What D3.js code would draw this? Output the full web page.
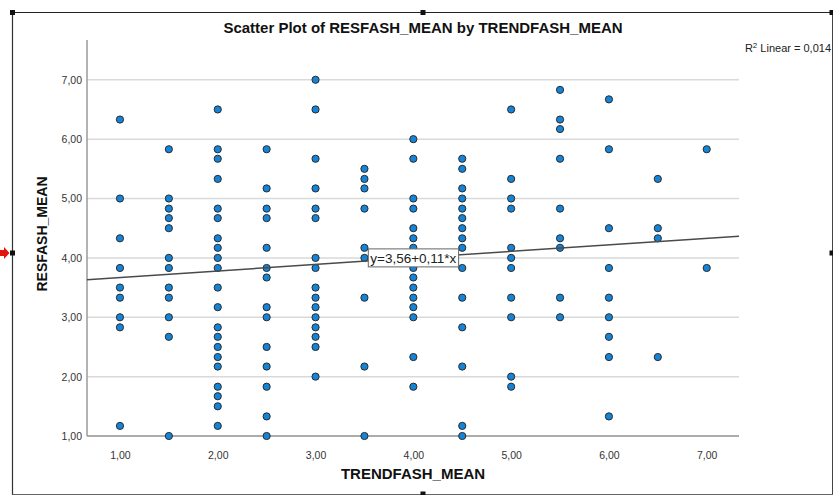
<!DOCTYPE html>
<html>
<head>
<meta charset="utf-8">
<script src="https://cdn.jsdelivr.net/npm/d3@7"></script>
<style>
  html, body { margin: 0; padding: 0; background: #fff; }
  svg { display: block; }
</style>
</head>
<body>
<svg id="chart" width="833" height="495"></svg>
<script>
// TRENDFASH_MEAN groups and the RESFASH_MEAN values observed in each group
const trendLevels = [1.0, 1.5, 2.0, 2.5, 3.0, 3.5, 4.0, 4.5, 5.0, 5.5, 6.0, 6.5, 7.0];
const res_1_0 = [6.33, 5.00, 4.33, 3.83, 3.50, 3.33, 3.00, 2.83, 1.17];
const res_1_5 = [5.83, 5.00, 4.83, 4.67, 4.50, 4.00, 3.83, 3.50, 3.33, 3.00, 2.67, 1.00];
const res_2_0 = [6.50, 5.83, 5.67, 5.33, 4.83, 4.67, 4.33, 4.17, 4.00, 3.83, 3.50, 3.17, 2.83, 2.67, 2.50, 2.33, 2.17, 1.83, 1.67, 1.50, 1.17];
const res_2_5 = [5.83, 5.17, 4.83, 4.67, 4.17, 3.83, 3.67, 3.17, 3.00, 2.50, 2.17, 1.83, 1.33, 1.00];
const res_3_0 = [7.00, 6.50, 5.67, 5.17, 4.83, 4.67, 4.00, 3.83, 3.50, 3.33, 3.17, 3.00, 2.83, 2.67, 2.50, 2.00];
const res_3_5 = [5.50, 5.33, 5.17, 4.83, 4.17, 4.00, 3.33, 2.17, 1.00];
const res_4_0 = [6.00, 5.67, 5.00, 4.83, 4.50, 4.33, 4.17, 4.00, 3.83, 3.67, 3.50, 3.33, 3.17, 3.00, 2.33, 1.83];
const res_4_5 = [5.67, 5.50, 5.17, 5.00, 4.83, 4.67, 4.50, 4.33, 4.17, 3.83, 3.33, 2.83, 2.17, 1.17, 1.00];
const res_5_0 = [6.50, 5.33, 5.00, 4.83, 4.17, 4.00, 3.83, 3.33, 3.00, 2.00, 1.83];
const res_5_5 = [6.83, 6.33, 6.17, 5.67, 4.83, 4.33, 4.17, 3.33, 3.00];
const res_6_0 = [6.67, 5.83, 4.50, 3.83, 3.33, 3.00, 2.67, 2.33, 1.33];
const res_6_5 = [5.33, 4.50, 4.33, 2.33];
const res_7_0 = [5.83, 3.83];
const groupValues = [res_1_0, res_1_5, res_2_0, res_2_5, res_3_0, res_3_5, res_4_0,
                     res_4_5, res_5_0, res_5_5, res_6_0, res_6_5, res_7_0];

// Tick values and the fitted linear model
const xTicks = [1, 2, 3, 4, 5, 6, 7];
const yTicks = [1, 2, 3, 4, 5, 6, 7];
const fitIntercept = 3.56;
const fitSlope = 0.11;
const fitLabelAt = 4.0;
const rSquared = "0,014";

const points = [];
trendLevels.forEach((t, i) => groupValues[i].forEach(v => points.push({ x: t, y: v })));

const fmt = v => d3.format(".2f")(v).replace(".", ",");

const svg = d3.select("#chart");
const font = "'Liberation Sans', Arial, sans-serif";

const plot = { left: 87, right: 739, top: 40, bottom: 436 };
const x = d3.scaleLinear().domain([0.663, 7.33]).range([plot.left, plot.right]);
const y = d3.scaleLinear().domain([1, 7.67]).range([plot.bottom, plot.top]);

// Outer frame with selection handles
const frame = svg.append("g");
frame.append("line").attr("x1", 12.5).attr("x2", 833).attr("y1", 12.5).attr("y2", 12.5)
  .attr("stroke", "#222").attr("stroke-width", 1.2);
frame.append("line").attr("x1", 12.5).attr("x2", 12.5).attr("y1", 12.5).attr("y2", 495)
  .attr("stroke", "#333").attr("stroke-width", 1.2);
frame.append("line").attr("x1", 832.5).attr("x2", 832.5).attr("y1", 12.5).attr("y2", 495)
  .attr("stroke", "#444").attr("stroke-width", 1);
frame.append("line").attr("x1", 12.5).attr("x2", 833).attr("y1", 494.5).attr("y2", 494.5)
  .attr("stroke", "#666").attr("stroke-width", 1);
const handles = [[12.5, 12.5], [423, 12.5], [832, 12.5], [12.5, 253], [832, 253], [423, 494]];
frame.selectAll("rect.handle").data(handles).join("rect")
  .attr("class", "handle")
  .attr("x", d => d[0] - 2.5).attr("y", d => d[1] - 2.5)
  .attr("width", 5).attr("height", 5).attr("fill", "#111");
frame.append("path")
  .attr("d", "M0,250 L4,250 L4,247 L9.5,253 L4,259 L4,256 L0,256 Z")
  .attr("fill", "#e3120b");

// Title and R² note
svg.append("text")
  .attr("x", 423).attr("y", 33)
  .attr("text-anchor", "middle")
  .attr("font-family", font).attr("font-weight", "bold").attr("font-size", 15)
  .attr("fill", "#111")
  .text("Scatter Plot of RESFASH_MEAN by TRENDFASH_MEAN");

const r2 = svg.append("text")
  .attr("x", 831).attr("y", 52)
  .attr("text-anchor", "end")
  .attr("font-family", font).attr("font-size", 11)
  .attr("fill", "#222");
r2.append("tspan").text("R");
r2.append("tspan").attr("dy", -4).attr("font-size", 8).text("2");
r2.append("tspan").attr("dy", 4).text(" Linear = " + rSquared);

// Horizontal gridlines
svg.append("g").selectAll("line").data(yTicks).join("line")
  .attr("x1", plot.left).attr("x2", plot.right)
  .attr("y1", d => y(d)).attr("y2", d => y(d))
  .attr("stroke", "#d9d9d9").attr("stroke-width", 1.5);

// Axes
const yAxis = svg.append("g").attr("transform", `translate(${plot.left},0)`)
  .call(d3.axisLeft(y).tickValues(yTicks).tickFormat(fmt).tickSize(0).tickPadding(5));
const xAxis = svg.append("g").attr("transform", `translate(0,${plot.bottom})`)
  .call(d3.axisBottom(x).tickValues(xTicks).tickFormat(fmt).tickSize(0).tickPadding(16));
[yAxis, xAxis].forEach(g => {
  g.select(".domain").attr("stroke", "#9a9a9a").attr("stroke-width", 1.5);
  g.selectAll("text").attr("font-family", font).attr("font-size", 10.5).attr("fill", "#333");
});
yAxis.select(".domain").attr("d", `M0,${plot.top}V${plot.bottom}`);
xAxis.select(".domain").attr("d", `M${plot.left},0H${plot.right}`);

// Axis titles
svg.append("text")
  .attr("transform", `translate(47,234) rotate(-90)`)
  .attr("text-anchor", "middle")
  .attr("font-family", font).attr("font-weight", "bold").attr("font-size", 14)
  .attr("fill", "#111")
  .text("RESFASH_MEAN");
svg.append("text")
  .attr("x", 413).attr("y", 479)
  .attr("text-anchor", "middle")
  .attr("font-family", font).attr("font-weight", "bold").attr("font-size", 15)
  .attr("fill", "#111")
  .text("TRENDFASH_MEAN");

// Data points
svg.append("g").selectAll("circle").data(points).join("circle")
  .attr("cx", d => x(d.x)).attr("cy", d => y(d.y))
  .attr("r", 3.6)
  .attr("fill", "#1484d8")
  .attr("stroke", "#2b2b2b").attr("stroke-width", 1);

// Fitted line across the full x range
const [x0, x1] = x.domain();
svg.append("line")
  .attr("x1", x(x0)).attr("y1", y(fitIntercept + fitSlope * x0))
  .attr("x2", x(x1)).attr("y2", y(fitIntercept + fitSlope * x1))
  .attr("stroke", "#4a4a4a").attr("stroke-width", 1.5);

// Equation label on the line
const lx = x(fitLabelAt), ly = y(fitIntercept + fitSlope * fitLabelAt);
const eq = svg.append("g");
const eqText = eq.append("text")
  .attr("x", lx).attr("y", ly + 5)
  .attr("text-anchor", "middle")
  .attr("font-family", font).attr("font-size", 13.5)
  .attr("fill", "#222")
  .text(`y=${fmt(fitIntercept)}+${fmt(fitSlope)}*x`);
const bb = eqText.node().getBBox();
eq.insert("rect", "text")
  .attr("x", bb.x - 2).attr("y", ly - 9)
  .attr("width", bb.width + 4).attr("height", 18)
  .attr("fill", "#fff").attr("stroke", "#666").attr("stroke-width", 1);
</script>
</body>
</html>
